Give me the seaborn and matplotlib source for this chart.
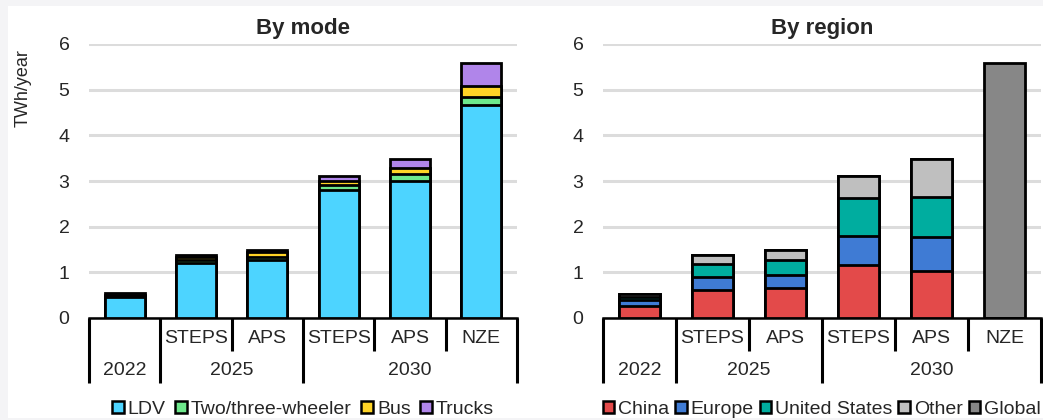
import matplotlib
matplotlib.use("Agg")
import matplotlib.pyplot as plt
import matplotlib.patches as mpatches
import numpy as np
import pandas as pd
import seaborn as sns

# Bar keys (one per bar) and the two-level category labels
bar_keys = ["2022", "2025 STEPS", "2025 APS", "2030 STEPS", "2030 APS", "2030 NZE"]
scenario_labels = ["", "STEPS", "APS", "STEPS", "APS", "NZE"]
year_labels = ["2022", "2025", "2030"]
year_spans = [(0, 0), (1, 2), (3, 5)]

# By mode (TWh/year)
ldv = [0.47, 1.21, 1.26, 2.81, 3.00, 4.67]
two_three = [0.02, 0.07, 0.08, 0.10, 0.15, 0.18]
bus = [0.02, 0.05, 0.10, 0.08, 0.13, 0.24]
trucks = [0.03, 0.05, 0.04, 0.12, 0.20, 0.50]

# By region (TWh/year)
china = [0.27, 0.62, 0.66, 1.15, 1.04, 0.0]
europe = [0.12, 0.28, 0.29, 0.64, 0.73, 0.0]
united_states = [0.07, 0.29, 0.31, 0.84, 0.88, 0.0]
other = [0.07, 0.19, 0.22, 0.48, 0.83, 0.0]
global_total = [0.0, 0.0, 0.0, 0.0, 0.0, 5.59]

mode_series = [("LDV", ldv, "#4dd4ff"),
               ("Two/three-wheeler", two_three, "#6ee88c"),
               ("Bus", bus, "#ffd426"),
               ("Trucks", trucks, "#b085ea")]
region_series = [("China", china, "#e34a4a"),
                 ("Europe", europe, "#3f7bd4"),
                 ("United States", united_states, "#00ad9f"),
                 ("Other", other, "#bfbfbf"),
                 ("Global", global_total, "#878787")]

sns.set_theme(style="white")
plt.rcParams["font.family"] = ["Liberation Sans", "DejaVu Sans"]

fig = plt.figure(figsize=(10.43, 4.20), dpi=100)
fig.patch.set_facecolor("#f4f4f6")
fig.patches.append(mpatches.Rectangle((8 / 1043, 0.005), 1, 0.981,
                                      transform=fig.transFigure,
                                      facecolor="white", edgecolor="none",
                                      zorder=-10))

ax_mode = fig.add_axes([89 / 1043, 102 / 420, 428 / 1043, 274 / 420])
ax_region = fig.add_axes([603 / 1043, 102 / 420, 438 / 1043, 274 / 420])


def stacked_panel(ax, series, title, legend_loc, legend_anchor, colspace):
    # draw cumulative totals from the top layer down so each stack overlaps
    values = np.array([s[1] for s in series])
    cum = np.cumsum(values, axis=0)
    for i in range(len(series) - 1, -1, -1):
        df = pd.DataFrame({"bar": bar_keys, "value": cum[i]})
        sns.barplot(data=df, x="bar", y="value", order=bar_keys,
                    color=series[i][2], edgecolor="black", linewidth=2.0,
                    width=0.56, saturation=1, ax=ax, zorder=3)

    ax.set_xlim(-0.5, 5.5)
    ax.set_ylim(0, 6)
    ax.set_yticks(range(0, 7))
    ax.set_xticks([])
    ax.set_xlabel("")
    ax.set_ylabel("")
    ax.yaxis.grid(True, color="#dcdcdc", linewidth=2.2)
    ax.set_axisbelow(True)
    ax.tick_params(axis="y", length=0, pad=14, labelsize=14)
    for side in ["left", "right", "top"]:
        ax.spines[side].set_visible(False)
    ax.spines["bottom"].set_color("black")
    ax.spines["bottom"].set_linewidth(1.8)
    ax.set_title(title, fontsize=16, fontweight="bold", pad=7)

    # two-level category axis
    tr = ax.get_xaxis_transform()
    for i, lab in enumerate(scenario_labels):
        ax.text(i, -0.075, lab, transform=tr, ha="center", va="center", fontsize=14)
    for lab, (a, b) in zip(year_labels, year_spans):
        ax.text((a + b) / 2, -0.19, lab, transform=tr, ha="center", va="center", fontsize=14)
    long_edges = [-0.5, 0.5, 2.5, 5.5]
    short_edges = [1.5, 3.5, 4.5]
    for x in long_edges:
        ax.plot([x, x], [0, -0.238], transform=tr, color="black", lw=2.2,
                clip_on=False, solid_capstyle="butt")
    for x in short_edges:
        ax.plot([x, x], [0, -0.12], transform=tr, color="black", lw=2.2,
                clip_on=False, solid_capstyle="butt")

    handles = [mpatches.Patch(facecolor=c, edgecolor="black", linewidth=1.8, label=n)
               for n, _, c in series]
    ax.legend(handles=handles, loc=legend_loc, bbox_to_anchor=legend_anchor,
              ncol=len(series), frameon=False, fontsize=14,
              handlelength=0.6, handleheight=0.6, handletextpad=0.2,
              columnspacing=colspace, borderaxespad=0, borderpad=0)


stacked_panel(ax_mode, mode_series, "By mode", "center", (0.5, -0.333), 0.5)
stacked_panel(ax_region, region_series, "By region", "center right", (1.0, -0.333), 0.3)

fig.text(23 / 1043, 1 - 88 / 420, "TWh/year", rotation=90, ha="center",
         va="center", fontsize=13)

fig.savefig("out.png", dpi=100, facecolor=fig.get_facecolor())
